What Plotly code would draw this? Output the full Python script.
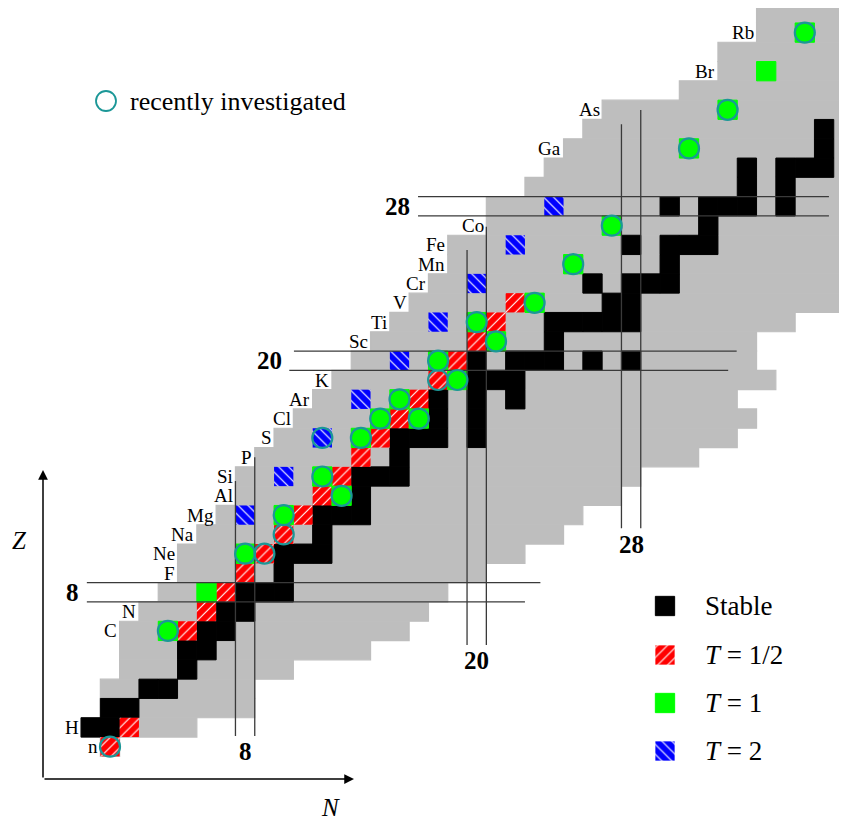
import plotly.graph_objects as go

# ---------------- data ----------------
Z_rows = list(range(39))
N_min = [1, 0, 1, 1, 2, 2, 2, 3, 4, 5, 5, 6, 7, 8, 8, 9, 10, 11, 12, 13, 14, 15, 16,
         17, 18, 19, 19, 21, 21, 23, 24, 25, 26, 27, 31, 33, 33, 35, 35]
N_max = [1, 5, 8, 8, 10, 14, 16, 17, 18, 20, 22, 24, 25, 27, 28, 31, 33, 34, 33, 35, 34, 34, 36,
         40, 40, 40, 40, 40, 40, 40, 40, 40, 40, 40, 40, 40, 40, 40, 40]

stable_Z = [1, 1, 2, 2, 3, 3, 4, 5, 5, 6, 6, 7, 7, 8, 8, 8, 9, 10, 10, 10, 11, 12, 12, 12, 13,
            14, 14, 14, 15, 16, 16, 16, 16, 17, 17, 18, 18, 18, 19, 19, 19,
            20, 20, 20, 20, 20, 20, 21, 22, 22, 22, 22, 22, 23, 23, 24, 24, 24, 24, 25,
            26, 26, 26, 26, 27, 28, 28, 28, 28, 28, 29, 29, 30, 30, 30, 30, 31, 32]
stable_N = [0, 1, 1, 2, 3, 4, 5, 5, 6, 6, 7, 7, 8, 8, 9, 10, 10, 10, 11, 12, 12, 12, 13, 14, 14,
            14, 15, 16, 16, 16, 17, 18, 20, 18, 20, 18, 20, 22, 20, 21, 22,
            20, 22, 23, 24, 26, 28, 24, 24, 25, 26, 27, 28, 27, 28, 26, 28, 29, 30, 30,
            28, 30, 31, 32, 32, 30, 32, 33, 34, 36, 34, 36, 34, 36, 37, 38, 38, 38]

half_Z = [0, 1, 6, 7, 8, 9, 10, 11, 12, 13, 14, 15, 16, 17, 18, 19, 20, 21, 22, 23]
half_N = [1, 2, 5, 6, 7, 8, 9, 10, 11, 12, 13, 14, 15, 16, 17, 18, 19, 20, 21, 22]

one_Z = [6, 8, 10, 12, 13, 14, 16, 17, 17, 18, 19, 20, 21, 22, 23, 25, 27, 31, 33, 35, 37]
one_N = [4, 6, 8, 10, 13, 12, 14, 15, 17, 16, 19, 18, 21, 20, 23, 25, 27, 31, 33, 35, 37]

two_Z = [12, 14, 16, 18, 20, 22, 24, 26, 28]
two_N = [8, 10, 12, 14, 16, 18, 20, 22, 24]

recent_Z = [0, 6, 10, 10, 11, 12, 13, 14, 16, 16, 17, 17, 18, 19, 19, 20, 21, 22, 23, 25, 27, 31, 33, 37]
recent_N = [1, 4, 8, 9, 10, 10, 13, 12, 12, 14, 15, 17, 16, 18, 19, 18, 21, 20, 23, 25, 27, 31, 33, 37]

label_sym = ['n', 'H', 'C', 'N', 'F', 'Ne', 'Na', 'Mg', 'Al', 'Si', 'P', 'S', 'Cl', 'Ar', 'K',
             'Sc', 'Ti', 'V', 'Cr', 'Mn', 'Fe', 'Co', 'Ga', 'As', 'Br', 'Rb']
label_Z = [0, 1, 6, 7, 9, 10, 11, 12, 13, 14, 15, 16, 17, 18, 19, 21, 22, 23, 24, 25, 26, 27,
           31, 33, 35, 37]

magic = [8, 20, 28]
legend_labels = ['Stable', '<i>T</i> = 1/2', '<i>T</i> = 1', '<i>T</i> = 2']

# ---------------- layout constants ----------------
PAGE_OFF = 8                     # default body margin of the html page
W, H = 847 - PAGE_OFF, 825 - PAGE_OFF
X0, Y0, S = 90.7, 746.7, 19.3    # page pixel of N=0 / Z=0 centre, pixels per cell


def px2x(px):
    return (px - X0) / S


def py2y(py):
    return (Y0 - py) / S


# magic-line extents (in N / Z units)
v_top_lo = [13.77, 25.74, 32.25]
v_top_hi = [15.0, 26.94, 32.99]
v_bottom = [0.55, 5.27, 11.32]
h_left_hi = [-0.2, 10.53, 16.96]
h_left_lo = [-0.2, 10.29, 16.96]
h_right_hi = [23.3, 33.47, 38.25]
h_right_lo = [22.5, 33.03, 38.25]

GRAY = '#bebebe'
RED = '#ff0000'
GREEN = '#00ff00'
BLUE = '#0000ff'
TEAL = '#1b9797'
LINE = '#3a3a3a'
FONT = 'Liberation Serif'

fig = go.Figure()

# known nuclides (gray band)
fig.add_trace(go.Bar(
    orientation='h', y=Z_rows,
    x=[mx - mn + 1 for mn, mx in zip(N_min, N_max)],
    base=[mn - 0.5 for mn in N_min], width=1,
    marker=dict(color=GRAY, line=dict(width=1.2, color=GRAY)), hoverinfo='skip'))


def cell_trace(zs, ns, color, pattern=None, size=1.0):
    mk = dict(color=color, line=dict(width=0))
    if pattern:
        mk['pattern'] = dict(shape=pattern, bgcolor=color, fgcolor='white',
                             size=7, solidity=0.16, fillmode='replace')
    else:
        mk['line'] = dict(width=1.0, color=color)
    return go.Bar(orientation='h', y=zs, x=[size] * len(zs),
                  base=[n - size / 2 for n in ns], width=size, marker=mk, hoverinfo='skip')


fig.add_trace(cell_trace(stable_Z, stable_N, 'black'))
fig.add_trace(cell_trace(half_Z, half_N, RED, '/'))
fig.add_trace(cell_trace(one_Z, one_N, GREEN))
fig.add_trace(cell_trace(two_Z, two_N, BLUE, '\\'))

# magic-number lines
lx, ly = [], []
for i, m in enumerate(magic):
    lx += [m - 0.5, m - 0.5, None, m + 0.5, m + 0.5, None]
    ly += [v_bottom[i], v_top_lo[i], None, v_bottom[i], v_top_hi[i], None]
    lx += [h_left_hi[i], h_right_hi[i], None, h_left_lo[i], h_right_lo[i], None]
    ly += [m + 0.5, m + 0.5, None, m - 0.5, m - 0.5, None]
fig.add_trace(go.Scatter(x=lx, y=ly, mode='lines', line=dict(color=LINE, width=1.3),
                         hoverinfo='skip'))

# recently investigated circles
green_set = set(zip(one_Z, one_N))
fill_cols = [GREEN if (z, n) in green_set else 'rgba(0,0,0,0)' for z, n in zip(recent_Z, recent_N)]
fig.add_trace(go.Scatter(x=recent_N, y=recent_Z, mode='markers', hoverinfo='skip',
                         marker=dict(symbol='circle', size=20, color=fill_cols,
                                     line=dict(color=TEAL, width=2.2))))

# ---------------- legend ----------------
leg_x = px2x(665)
leg_y = [py2y(p) for p in (606, 655, 703, 751)]
leg_cols = ['black', RED, GREEN, BLUE]
leg_pat = [None, '/', None, '\\']
for yy, col, pat in zip(leg_y, leg_cols, leg_pat):
    fig.add_trace(cell_trace([yy], [leg_x], col, pat, size=1.0))

annotations = []
for yy, txt in zip(leg_y, legend_labels):
    annotations.append(dict(x=px2x(703), y=yy, text=txt, showarrow=False, xanchor='left',
                            yanchor='middle', font=dict(family=FONT, size=27, color='black')))

fig.add_trace(go.Scatter(x=[px2x(106)], y=[py2y(101)], mode='markers', hoverinfo='skip',
                         marker=dict(symbol='circle-open', size=20,
                                     line=dict(color=TEAL, width=1.8), color=TEAL)))
annotations.append(dict(x=px2x(128), y=py2y(101), text='recently investigated', showarrow=False,
                        xanchor='left', yanchor='middle',
                        font=dict(family=FONT, size=26, color='black')))

# element labels
for sym, z in zip(label_sym, label_Z):
    annotations.append(dict(x=N_min[z] - 0.5 - 0.08, y=z, text=sym, showarrow=False,
                            xanchor='right', yanchor='middle', borderpad=0,
                            font=dict(family=FONT, size=19, color='black')))

# magic labels
for i, m in enumerate(magic):
    annotations.append(dict(x=min(h_left_hi[i], h_left_lo[i]) - 0.3, y=m, text='<b>%d</b>' % m,
                            showarrow=False, xanchor='right', yanchor='middle',
                            font=dict(family=FONT, size=25, color='black')))
    annotations.append(dict(x=m, y=v_bottom[i] - 0.02, text='<b>%d</b>' % m, showarrow=False,
                            xanchor='center', yanchor='top',
                            font=dict(family=FONT, size=25, color='black')))

# axes arrows
ox, oy = px2x(43), py2y(779)
annotations.append(dict(x=ox, y=py2y(470), ax=ox, ay=oy, xref='x', yref='y', axref='x', ayref='y',
                        text='', showarrow=True, arrowhead=2, arrowsize=1.3, arrowwidth=1.5,
                        arrowcolor='black'))
annotations.append(dict(x=px2x(354), y=oy, ax=ox, ay=oy, xref='x', yref='y', axref='x', ayref='y',
                        text='', showarrow=True, arrowhead=2, arrowsize=1.3, arrowwidth=1.5,
                        arrowcolor='black'))
annotations.append(dict(x=px2x(19), y=py2y(540), text='<i>Z</i>', showarrow=False,
                        font=dict(family=FONT, size=25, color='black')))
annotations.append(dict(x=px2x(330), y=py2y(807), text='<i>N</i>', showarrow=False,
                        font=dict(family=FONT, size=25, color='black')))

fig.update_layout(
    width=W, height=H, autosize=False,
    margin=dict(l=0, r=0, t=0, b=0, pad=0),
    paper_bgcolor='white', plot_bgcolor='white',
    barmode='overlay', showlegend=False,
    xaxis=dict(range=[px2x(PAGE_OFF), px2x(PAGE_OFF + W)], visible=False, fixedrange=True),
    yaxis=dict(range=[py2y(PAGE_OFF + H), py2y(PAGE_OFF)], visible=False, fixedrange=True),
    annotations=annotations,
)

fig.write_html('out.html')
